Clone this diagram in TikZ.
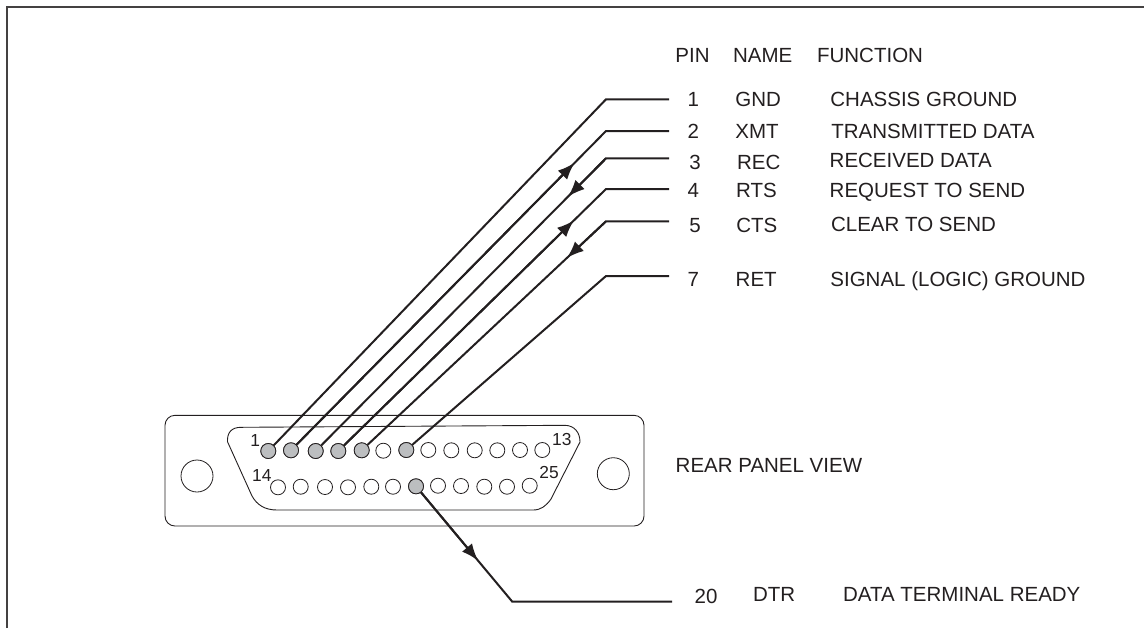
\documentclass[tikz,border=0pt]{standalone}
\usepackage{fontspec}
\setmainfont{Liberation Sans}
\usetikzlibrary{calc, arrows.meta}
\definecolor{pinGray}{HTML}{BCBEC0}
\definecolor{inkGray}{HTML}{231F20}
\begin{document}
\begin{tikzpicture}[x=0.5pt, y=-0.5pt, color=inkGray]
    % open pin, and the same pin when it is wired
    \tikzstyle{pin}=[inner sep=0, circle, draw, line width=0.4pt, minimum size=7.5pt, fill=white]
    \tikzstyle{usedpin}=[pin, fill=pinGray]
    \tikzstyle{wire}=[line width=1pt]
    \tikzstyle{tip}=[line width=1pt, -{Latex[length=8.5pt,width=6.5pt]}]
    \tikzstyle{shell}=[line width=0.45pt]
    % table text
    \tikzstyle{lbl}=[inner sep=0, anchor=base west, font=\fontsize{10.25}{12}\selectfont]
    \tikzstyle{num}=[inner sep=0, anchor=base, font=\fontsize{10.25}{12}\selectfont]
    \tikzstyle{small}=[inner sep=0, anchor=base west, font=\fontsize{8.7}{10}\selectfont]
    \useasboundingbox (0,0) rectangle (1144,628);
    % frame, open to the right and below
    \draw[line width=1pt, color=inkGray!85] (6.5,628) -- (6.5,6.5) -- (1144,6.5);
    % connector body
    \draw[shell, rounded corners=5pt] (165,415.3) rectangle (644,526);
    \draw[shell] (227.5,441.7) .. controls (227,432) and (232,427.3) .. (241,427.3)
        -- (565,425.3) .. controls (574,425.5) and (580,432) .. (580,442)
        -- (551,499) .. controls (546,506) and (541,510) .. (533,510)
        -- (277,510) .. controls (265,510) and (257,505) .. (252,496) -- cycle;
    \node[pin, minimum size=16pt] (holeL) at (197,476) {};
    \node[pin, minimum size=16pt] (holeR) at (613.3,473.7) {};
    % pins of the upper row
    \foreach \n/\x/\y in {1/268.3/451, 2/291/450.3, 3/315.7/451, 4/338.3/451, 5/361.7/450.3,
        6/383.3/450.7, 7/406.3/450, 8/428.3/450, 9/451.3/450.3, 10/474.7/450.3,
        11/497.3/450.3, 12/520/450, 13/542.3/450}
        \node[pin] (pin\n) at (\x,\y) {};
    % pins of the lower row
    \foreach \n/\x/\y in {14/278/487.3, 15/300.7/486.7, 16/325/487, 17/348/487.3, 18/371.3/486.7,
        19/393/486.7, 20/416/486.3, 21/438/485.7, 22/461/486, 23/484.3/486.7,
        24/507/486.7, 25/529.7/485.7}
        \node[pin] (pin\n) at (\x,\y) {};
    % wired pins
    \foreach \n in {1,2,3,4,5,7,20}
        \node[usedpin] at (pin\n) {};
    \node[small] (num1) at (250,446.7) {1};
    \node[small] (num13) at (551.7,445) {13};
    \node[small] (num14) at (251.7,481.7) {14};
    \node[small] (num25) at (539,478.3) {25};
    % wires
    \foreach \n/\y in {1/99.3, 2/131, 3/158.3, 4/189, 5/221.3, 7/276}{
        \coordinate (knee\n) at (606,\y);
        \coordinate (end\n) at (669,\y);
        \draw[wire] (pin\n) -- (knee\n) -- (end\n);
    }
    \coordinate (knee20) at (512.3,601.7);
    \coordinate (end20) at (672,601.7);
    \draw[wire] (pin20) -- (knee20) -- (end20);
    % direction of the signals
    \draw[tip] (pin2) -- ($(pin2)!0.90!(knee2)$);
    \draw[tip] (knee3) -- ($(knee3)!0.131!(pin3)$);
    \draw[tip] (pin4) -- ($(pin4)!0.88!(knee4)$);
    \draw[tip] (knee5) -- ($(knee5)!0.16!(pin5)$);
    \draw[tip] (pin20) -- ($(pin20)!0.644!(knee20)$);
    % table
    \node[lbl] (headPin) at (675,62.7) {PIN};
    \node[lbl] (headName) at (732.7,62.7) {NAME};
    \node[lbl] (headFunc) at (816.7,62.7) {FUNCTION};
    \node[num] (row1) at (693.3,106.7) {1};
    \node[lbl] (name1) at (735,106.7) {GND};
    \node[lbl] (func1) at (830,106.7) {CHASSIS GROUND};
    \node[num] (row2) at (693.3,138.3) {2};
    \node[lbl] (name2) at (735,138.3) {XMT};
    \node[lbl] (func2) at (831,138.3) {TRANSMITTED DATA};
    \node[num] (row3) at (695,169) {3};
    \node[lbl] (name3) at (736.7,169) {REC};
    \node[lbl] (func3) at (829.3,167.7) {RECEIVED DATA};
    \node[num] (row4) at (693.3,197.7) {4};
    \node[lbl] (name4) at (735.7,197.7) {RTS};
    \node[lbl] (func4) at (829.3,197.7) {REQUEST TO SEND};
    \node[num] (row5) at (695,232.7) {5};
    \node[lbl] (name5) at (736,232.7) {CTS};
    \node[lbl] (func5) at (830.7,231.7) {CLEAR TO SEND};
    \node[num] (row7) at (693.3,286) {7};
    \node[lbl] (name7) at (735.3,286) {RET};
    \node[lbl] (func7) at (830,286.7) {SIGNAL (LOGIC) GROUND};
    \node[lbl] (view) at (675.3,472.7) {REAR PANEL VIEW};
    \node[lbl] (row20) at (694.3,603.3) {20};
    \node[lbl] (name20) at (752.7,601.7) {DTR};
    \node[lbl] (func20) at (842.7,601.7) {DATA TERMINAL READY};
\end{tikzpicture}
\end{document}
